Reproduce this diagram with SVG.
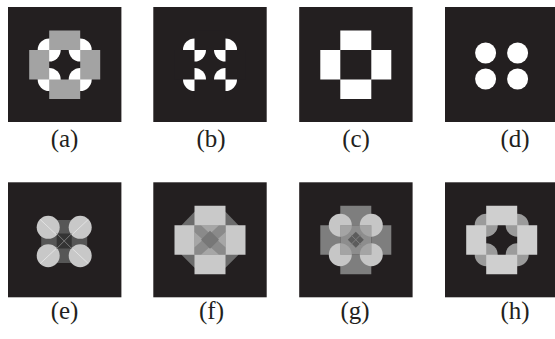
<svg xmlns="http://www.w3.org/2000/svg" width="555" height="339" viewBox="0 0 555 339">
<style>
.bg{fill:#231f20}
.lbl{font-family:"Liberation Serif","Times New Roman",serif;font-size:25px;text-anchor:middle;fill:#231f20}
</style>
<defs>
<path id="arms" d="M-15.5,-34H15.5V-14.5H-15.5Z M-15.5,15H15.5V34.5H-15.5Z M-35.5,-14.5H-15.5V15H-35.5Z M15.5,-14.5H35.5V15H15.5Z"/>
<g id="discs"><circle cx="-15.5" cy="-14.5" r="11.5"/><circle cx="15.5" cy="-14.5" r="11.5"/><circle cx="-15.5" cy="15" r="11.5"/><circle cx="15.5" cy="15" r="11.5"/></g>
<clipPath id="ctr"><rect x="-15.5" y="-14.5" width="31" height="29.5"/></clipPath>
</defs>
<rect width="555" height="339" fill="#ffffff"/>

<g id="panel-a">
<rect class="bg" x="8" y="7" width="113.4" height="115"/>
<g transform="translate(64.7,64.5)"><use href="#discs" fill="#ffffff"/><use href="#arms" fill="#a3a3a3"/></g>
<text class="lbl" x="64.5" y="147">(a)</text>
</g>

<g id="panel-b">
<rect class="bg" x="153.3" y="7" width="113.4" height="115"/>
<g transform="translate(210,64.5)"><use href="#discs" fill="#ffffff"/><use href="#arms" fill="#231f20"/></g>
<text class="lbl" x="211" y="147">(b)</text>
</g>

<g id="panel-c">
<rect class="bg" x="299.2" y="7" width="113.4" height="115"/>
<g transform="translate(355.8,64.5)"><use href="#arms" fill="#ffffff"/></g>
<text class="lbl" x="356" y="147">(c)</text>
</g>

<g id="panel-d">
<rect class="bg" x="445" y="7" width="113.4" height="115"/>
<g fill="#ffffff"><circle cx="485.6" cy="53" r="10.5"/><circle cx="517.6" cy="53" r="10.5"/><circle cx="485.6" cy="79" r="10.5"/><circle cx="517.6" cy="79" r="10.5"/></g>
<text class="lbl" x="515" y="147">(d)</text>
</g>

<g id="panel-e">
<rect class="bg" x="8" y="182.3" width="113.4" height="115"/>
<g transform="translate(64.2,241.5)">
<rect x="-23" y="-21.5" width="46" height="43" fill="#565656"/>
<rect x="-7.5" y="-8" width="15" height="15" fill="#343434"/>
<g fill="#c8c8c8"><circle cx="-16" cy="-14.2" r="11.5"/><circle cx="16" cy="-14.2" r="11.5"/><circle cx="-16" cy="14.2" r="11.5"/><circle cx="16" cy="14.2" r="11.5"/></g>
<g stroke="#e2e2e2" stroke-width="1"><line x1="-24" y1="-22" x2="-8" y2="-7"/><line x1="24" y1="-22" x2="8" y2="-7"/><line x1="-24" y1="22" x2="-8" y2="7"/><line x1="24" y1="22" x2="8" y2="7"/></g>
<g stroke="#7a7a7a" stroke-width="1"><line x1="-7.5" y1="-8" x2="7.5" y2="7"/><line x1="7.5" y1="-8" x2="-7.5" y2="7"/></g>
</g>
<text class="lbl" x="64.5" y="318.5">(e)</text>
</g>

<g id="panel-f">
<rect class="bg" x="153.3" y="182.3" width="113.4" height="115"/>
<g transform="translate(210,239.7)">
<polygon points="-15.5,-28 15.5,-28 28.5,-14.5 28.5,15 15.5,28 -15.5,28 -28.5,15 -28.5,-14.5" fill="#6c6c6c"/>
<use href="#arms" fill="#c9c9c9"/>
<rect x="-15.5" y="-14.5" width="31" height="29.5" fill="#b2b2b2"/>
<g clip-path="url(#ctr)">
<polygon points="-15.5,-8 -8,-14.5 8,-14.5 15.5,-8 15.5,8 8,15 -8,15 -15.5,8" fill="#a6a6a6"/>
<polygon points="-16,-14.5 -9,-14.5 0,-6 9,-14.5 16,-14.5 16,-8 7,0 16,8 16,15 9,15 0,7 -9,15 -16,15 -16,8 -7,0 -16,-8" fill="#8a8a8a"/>
<polygon points="0,-9 9,0 0,9 -9,0" fill="#777777"/>
</g>
</g>
<text class="lbl" x="211.5" y="318.5">(f)</text>
</g>

<g id="panel-g">
<rect class="bg" x="299.2" y="182.3" width="113.4" height="115"/>
<g transform="translate(355.8,239.7)">
<use href="#arms" fill="#7e7e7e"/>
<use href="#discs" fill="#c6c6c6"/>
<rect x="-15.5" y="-14.5" width="31" height="29.5" fill="#8d8d8d"/>
<g clip-path="url(#ctr)"><use href="#discs" fill="#a4a4a4"/></g>
<polygon points="0,-8 8,0 0,8 -8,0" fill="#5c5c5c"/>
<g stroke="#7e7e7e" stroke-width="1"><line x1="-5" y1="-5" x2="5" y2="5"/><line x1="5" y1="-5" x2="-5" y2="5"/></g>
</g>
<text class="lbl" x="355" y="318.5">(g)</text>
</g>

<g id="panel-h">
<rect class="bg" x="445" y="182.3" width="113.4" height="115"/>
<g transform="translate(501.7,239.7)"><use href="#discs" fill="#9b9b9b"/><use href="#arms" fill="#cfcfcf"/></g>
<text class="lbl" x="515" y="318.5">(h)</text>
</g>

<g id="connectors"/>
</svg>
